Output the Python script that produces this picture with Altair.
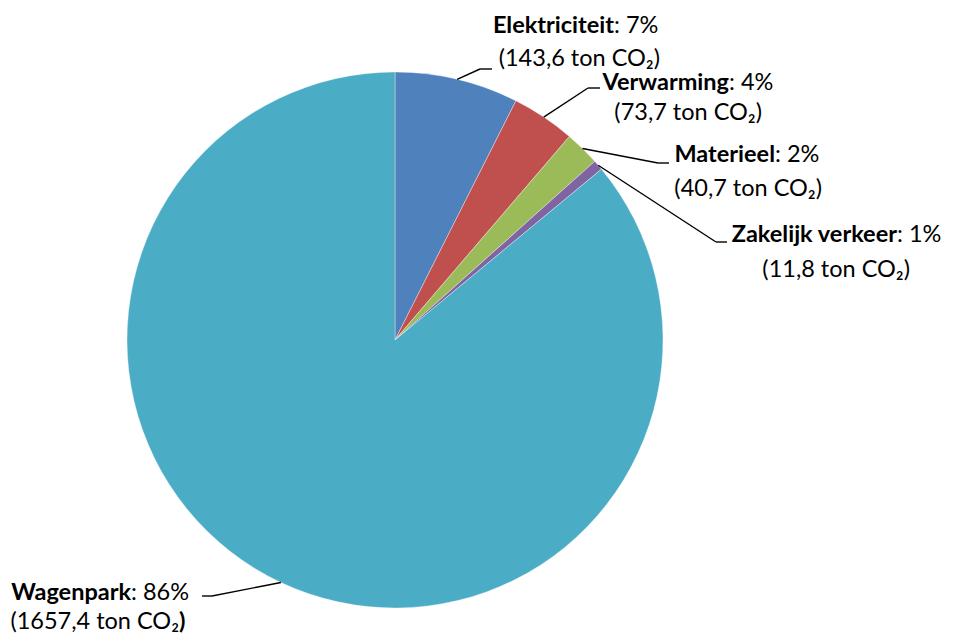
import math
import altair as alt
import pandas as pd

# ---- data ----
categories = ["Elektriciteit", "Verwarming", "Materieel", "Zakelijk verkeer", "Wagenpark"]
tons = [143.6, 73.7, 40.7, 11.8, 1657.4]
pct_labels = [": 7%", ": 4%", ": 2%", ": 1%", ": 86%"]
line2_text = ["(143,6 ton CO₂)", "(73,7 ton CO₂)", "(40,7 ton CO₂)", "(11,8 ton CO₂)", "(1657,4 ton CO₂"]
line2_tail = ["", "", "", "", ")"]
colors = ["#4F81BD", "#C0504D", "#9BBB59", "#8064A2", "#4BACC6"]

# ---- layout (pixels, chart coordinates) ----
W, H = 940, 627
CX, CY, R = 387, 332, 268
split1 = [606, 721, 767, 889, 123]          # end of bold name / start of ": x%"
base1 = [25, 82, 154, 234, 592]             # baseline line 1
split2 = [652, 754, 814, 902, 171]          # end of line 2 normal text
base2 = [58, 112, 188, 269, 621]            # baseline line 2
elbow = [(472, 61), (580, 80), (650, 155), (708, 234), (204, 588)]
lead_end = [(484, 61), (592, 80), (661, 155), (719, 234), (194, 588)]

FONT = "Lato"
FS = 23.5

total = sum(tons)
pie_df = pd.DataFrame({"cat": categories, "tons": tons, "idx": list(range(len(tons)))})

arc = alt.Chart(pie_df).mark_arc(stroke="#ffffff", strokeWidth=0.6, strokeOpacity=0.6).encode(
    theta=alt.Theta("tons:Q", stack=True),
    order=alt.Order("idx:Q"),
    color=alt.Color("cat:N", scale=alt.Scale(domain=categories, range=colors), legend=None),
    x=alt.value(CX), y=alt.value(CY), radius=alt.value(R),
)

# leader lines: from slice mid-angle on the rim to elbow, then horizontal
rows = []
cum = 0.0
for i, v in enumerate(tons):
    mid = (cum + v / 2) / total * 2 * math.pi
    cum += v
    ax = CX + R * math.sin(mid)
    ay = CY - R * math.cos(mid)
    rows.append({"x": ax, "y": ay, "x2": elbow[i][0], "y2": elbow[i][1]})
    rows.append({"x": elbow[i][0], "y": elbow[i][1], "x2": lead_end[i][0], "y2": lead_end[i][1]})
lead_df = pd.DataFrame(rows)
leaders = alt.Chart(lead_df).mark_rule(color="#000000", strokeWidth=1.4).encode(
    x=alt.X("x:Q", scale=None), y=alt.Y("y:Q", scale=None),
    x2="x2:Q", y2="y2:Q",
)

lab_df = pd.DataFrame({
    "name": categories, "pct": pct_labels, "l2": line2_text, "tail": line2_tail,
    "s1": split1, "b1": base1, "s2": split2, "b2": base2,
})

def txt(field, xf, yf, align, weight):
    return alt.Chart(lab_df).mark_text(
        align=align, baseline="alphabetic", font=FONT, fontSize=FS,
        fontWeight=weight, color="#000000",
    ).encode(x=alt.X(f"{xf}:Q", scale=None), y=alt.Y(f"{yf}:Q", scale=None), text=f"{field}:N")

chart = alt.layer(
    arc, leaders,
    txt("name", "s1", "b1", "right", "bold"),
    txt("pct", "s1", "b1", "left", "normal"),
    txt("l2", "s2", "b2", "right", "normal"),
    txt("tail", "s2", "b2", "left", "bold"),
).properties(
    width=W, height=H, autosize=alt.AutoSizeParams(type="none"), padding=0,
).configure_view(stroke=None)

chart.save("out.html", embed_options={"renderer": "svg", "actions": False})
